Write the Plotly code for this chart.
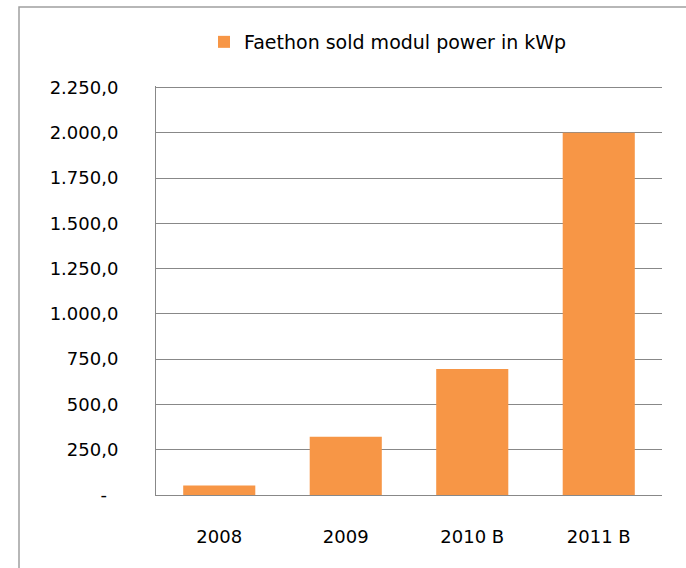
import plotly.graph_objects as go

categories = ["2008", "2009", "2010 B", "2011 B"]
values = [52, 322, 695, 2000]
series_name = "Faethon sold modul power in kWp"
tick_vals = [0, 250, 500, 750, 1000, 1250, 1500, 1750, 2000, 2250]
tick_text = ["-\u00a0\u00a0", "250,0", "500,0", "750,0", "1.000,0", "1.250,0",
             "1.500,0", "1.750,0", "2.000,0", "2.250,0"]

FONT = "DejaVu Sans"

fig = go.Figure()
fig.add_trace(go.Bar(
    x=categories, y=values, name=series_name,
    marker=dict(color="#F79646", line=dict(width=0)),
    showlegend=True,
))

W, H = 686, 568
L, R, T, B = 156, 24, 86, 73
pw, ph = W - L - R, H - T - B

def px_x(x):
    return (x - L) / pw

def px_y(y):
    return (H - B - y) / ph

fig.update_layout(
    width=W, height=H,
    margin=dict(l=L, r=R, t=T, b=B, pad=0),
    paper_bgcolor="white", plot_bgcolor="white",
    font=dict(family=FONT, size=18, color="#000000"),
    bargap=0.43,
    showlegend=True,
    legend=dict(
        orientation="h", x=px_x(204), xanchor="left",
        y=px_y(42), yanchor="middle",
        font=dict(family=FONT, size=19, color="#000000"),
        bgcolor="rgba(0,0,0,0)",
    ),
    xaxis=dict(
        showgrid=False, showline=True, linecolor="#888888", linewidth=1,
        ticks="", ticklabelstandoff=25,
        tickfont=dict(family=FONT, size=18, color="#000000"),
    ),
    yaxis=dict(
        range=[0, 2258], tickvals=tick_vals, ticktext=tick_text,
        showgrid=True, gridcolor="#888888", gridwidth=1,
        showline=True, linecolor="#888888", linewidth=1,
        zeroline=False, ticks="", ticklabelstandoff=33,
        tickfont=dict(family=FONT, size=18, color="#000000"),
    ),
    shapes=[dict(
        type="rect", xref="paper", yref="paper",
        x0=px_x(19), x1=px_x(700), y0=px_y(590), y1=px_y(7),
        line=dict(color="#a0a0a0", width=1.5), fillcolor="rgba(0,0,0,0)",
        layer="below",
    )],
)

fig.write_html(
    "out.html",
    config={"displayModeBar": False},
    post_script="document.body.style.margin='0';document.body.style.padding='0';",
)
